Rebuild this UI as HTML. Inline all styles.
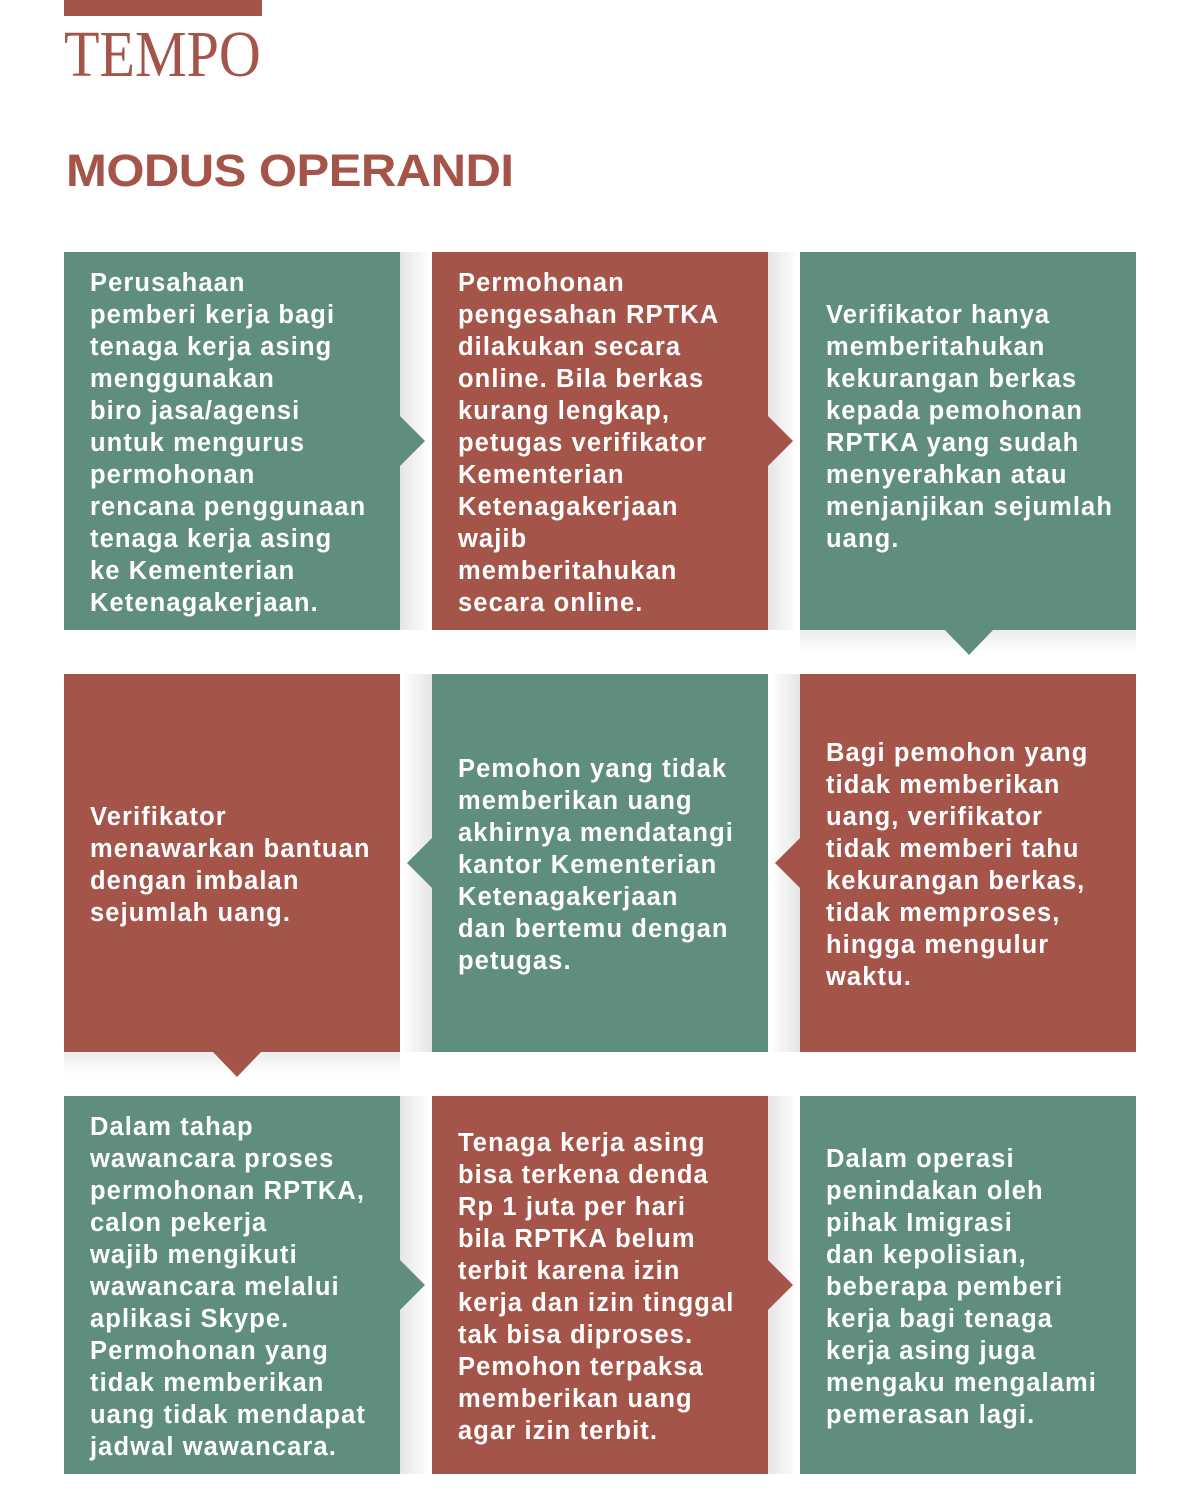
<!DOCTYPE html>
<html><head><meta charset="utf-8"><style>
body{margin:0;width:1200px;height:1510px;background:#fff;position:relative;overflow:hidden;font-family:"Liberation Sans",sans-serif}
.bar{position:absolute;left:64px;top:0;width:198px;height:16px;background:#a5544a}
.logo{position:absolute;left:64px;top:22px;font-family:"Liberation Serif",serif;font-size:66px;color:#a5544a;transform:scaleX(0.88);transform-origin:left top;line-height:66px}
.title{position:absolute;left:66px;top:146px;font-size:45px;font-weight:bold;color:#a5544a;letter-spacing:-0.5px;line-height:50px;transform:scaleX(1.09);transform-origin:left top}
.b{position:absolute;width:336px;height:378px}
.t{background:#5f8d80}.r{background:#a5544a}
.tx{position:absolute;left:26px;right:0;color:#fff;font-weight:bold;font-size:25.5px;line-height:32px;letter-spacing:1.1px;white-space:nowrap}
.sh{position:absolute;width:30px;height:378px}
.shl{background:linear-gradient(to right,rgba(0,0,0,0.1),rgba(0,0,0,0))}
.shr{background:linear-gradient(to left,rgba(0,0,0,0.1),rgba(0,0,0,0))}
.shb{position:absolute;width:336px;height:22px;background:linear-gradient(to bottom,rgba(0,0,0,0.08),rgba(0,0,0,0))}
.ar{position:absolute;width:0;height:0}
</style></head><body>
<div class="bar"></div>
<div class="logo">TEMPO</div>
<div class="title">MODUS OPERANDI</div>

<div class="sh shl" style="left:400px;top:252px"></div>
<div class="sh shl" style="left:768px;top:252px"></div>
<div class="shb" style="left:800px;top:630px"></div>
<div class="sh shr" style="left:770px;top:674px"></div>
<div class="sh shr" style="left:402px;top:674px"></div>
<div class="shb" style="left:64px;top:1052px"></div>
<div class="sh shl" style="left:400px;top:1096px"></div>
<div class="sh shl" style="left:768px;top:1096px"></div>

<div class="b t" style="left:64px;top:252px"><div class="tx" style="top:15px">Perusahaan<br>pemberi kerja bagi<br>tenaga kerja asing<br>menggunakan<br>biro jasa/agensi<br>untuk mengurus<br>permohonan<br>rencana penggunaan<br>tenaga kerja asing<br>ke Kementerian<br>Ketenagakerjaan.</div></div>
<div class="b r" style="left:432px;top:252px"><div class="tx" style="top:15px">Permohonan<br>pengesahan RPTKA<br>dilakukan secara<br>online. Bila berkas<br>kurang lengkap,<br>petugas verifikator<br>Kementerian<br>Ketenagakerjaan<br>wajib<br>memberitahukan<br>secara online.</div></div>
<div class="b t" style="left:800px;top:252px"><div class="tx" style="top:47px">Verifikator hanya<br>memberitahukan<br>kekurangan berkas<br>kepada pemohonan<br>RPTKA yang sudah<br>menyerahkan atau<br>menjanjikan sejumlah<br>uang.</div></div>

<div class="b r" style="left:64px;top:674px"><div class="tx" style="top:127px">Verifikator<br>menawarkan bantuan<br>dengan imbalan<br>sejumlah uang.</div></div>
<div class="b t" style="left:432px;top:674px"><div class="tx" style="top:79px">Pemohon yang tidak<br>memberikan uang<br>akhirnya mendatangi<br>kantor Kementerian<br>Ketenagakerjaan<br>dan bertemu dengan<br>petugas.</div></div>
<div class="b r" style="left:800px;top:674px"><div class="tx" style="top:63px">Bagi pemohon yang<br>tidak memberikan<br>uang, verifikator<br>tidak memberi tahu<br>kekurangan berkas,<br>tidak memproses,<br>hingga mengulur<br>waktu.</div></div>

<div class="b t" style="left:64px;top:1096px"><div class="tx" style="top:15px">Dalam tahap<br>wawancara proses<br>permohonan RPTKA,<br>calon pekerja<br>wajib mengikuti<br>wawancara melalui<br>aplikasi Skype.<br>Permohonan yang<br>tidak memberikan<br>uang tidak mendapat<br>jadwal wawancara.</div></div>
<div class="b r" style="left:432px;top:1096px"><div class="tx" style="top:31px">Tenaga kerja asing<br>bisa terkena denda<br>Rp 1 juta per hari<br>bila RPTKA belum<br>terbit karena izin<br>kerja dan izin tinggal<br>tak bisa diproses.<br>Pemohon terpaksa<br>memberikan uang<br>agar izin terbit.</div></div>
<div class="b t" style="left:800px;top:1096px"><div class="tx" style="top:47px">Dalam operasi<br>penindakan oleh<br>pihak Imigrasi<br>dan kepolisian,<br>beberapa pemberi<br>kerja bagi tenaga<br>kerja asing juga<br>mengaku mengalami<br>pemerasan lagi.</div></div>

<div class="ar" style="left:400px;top:416px;border-top:25px solid transparent;border-bottom:25px solid transparent;border-left:25px solid #5f8d80"></div>
<div class="ar" style="left:768px;top:416px;border-top:25px solid transparent;border-bottom:25px solid transparent;border-left:25px solid #a5544a"></div>
<div class="ar" style="left:945px;top:630px;border-left:24px solid transparent;border-right:24px solid transparent;border-top:25px solid #5f8d80"></div>
<div class="ar" style="left:775px;top:838px;border-top:25px solid transparent;border-bottom:25px solid transparent;border-right:25px solid #a5544a"></div>
<div class="ar" style="left:407px;top:838px;border-top:25px solid transparent;border-bottom:25px solid transparent;border-right:25px solid #5f8d80"></div>
<div class="ar" style="left:213px;top:1052px;border-left:24px solid transparent;border-right:24px solid transparent;border-top:25px solid #a5544a"></div>
<div class="ar" style="left:400px;top:1260px;border-top:25px solid transparent;border-bottom:25px solid transparent;border-left:25px solid #5f8d80"></div>
<div class="ar" style="left:768px;top:1260px;border-top:25px solid transparent;border-bottom:25px solid transparent;border-left:25px solid #a5544a"></div>
</body></html>
